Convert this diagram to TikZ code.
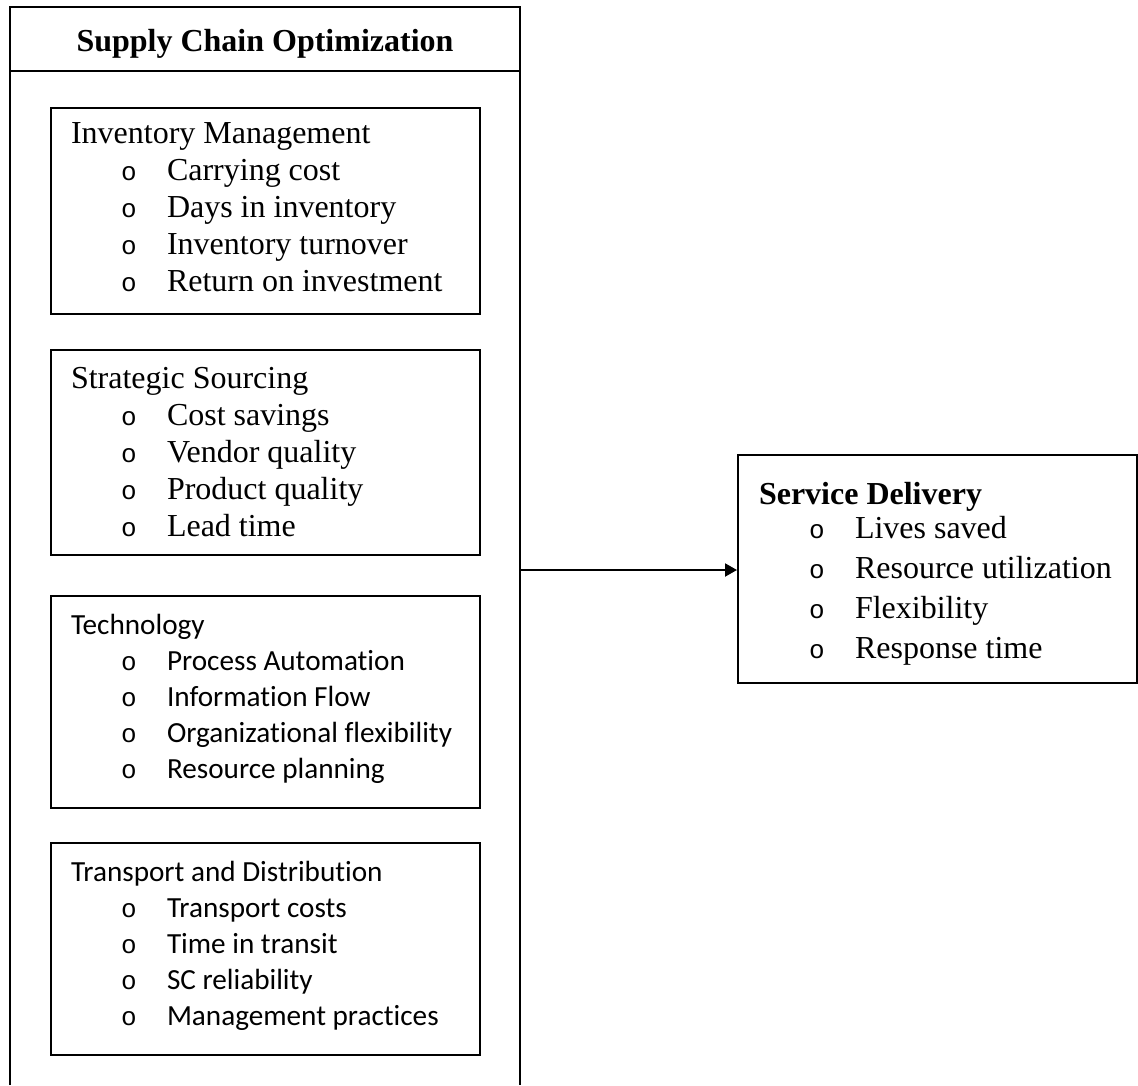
\documentclass[tikz,border=0pt]{standalone}
\usepackage{fontspec}
\setmainfont{Liberation Serif}
\newfontfamily\calibri[Ligatures=NoCommon]{Carlito}
\newfontfamily\bulletfont{Liberation Mono}
\usetikzlibrary{arrows.meta,positioning}

\newcommand{\bul}{{\bulletfont\fontsize{13}{13}\selectfont o}}
\newcommand{\itm}[1]{\hspace*{25pt}\makebox[23pt][l]{\bul}\mbox{#1}}

\tikzset{
  catbox/.style={draw, line width=1pt, anchor=north west, inner xsep=10pt, inner ysep=0pt},
  serifblk/.style={font=\fontsize{16}{18.5}\selectfont},
  sansblk/.style={font=\calibri\fontsize{14.6}{18.1}\selectfont},
  flow/.style={line width=1pt, -{Triangle[length=6pt,width=6.5pt]}}
}

\begin{document}
\begin{tikzpicture}[x=0.5pt, y=-0.5pt]
\useasboundingbox (0,0) rectangle (1138,1085);
\draw[line width=1pt] (10,1085) -- (10,7) -- (520,7) -- (520,1085);
\draw[line width=1pt] (10,71) -- (520,71);
\node[font=\bfseries\fontsize{16}{18.5}\selectfont, anchor=base] (sco) at (265,52) {Supply Chain Optimization};
\coordinate (scoE) at (520,570);

\node[catbox, serifblk] (inv) at (50,107) {\parbox[c][103pt][t]{194.5pt}{\rule{0pt}{18pt}Inventory Management\\
 \itm{Carrying cost}\\
 \itm{Days in inventory}\\
 \itm{Inventory turnover}\\
 \itm{Return on investment}}};
\node[catbox, serifblk] (src) at (50,349) {\parbox[c][102.5pt][t]{194.5pt}{\rule{0pt}{19pt}Strategic Sourcing\\
 \itm{Cost savings}\\
 \itm{Vendor quality}\\
 \itm{Product quality}\\
 \itm{Lead time}}};
\node[catbox, sansblk] (tech) at (50,595) {\parbox[c][106pt][t]{194.5pt}{\rule{0pt}{19pt}Technology\\
 \itm{Process Automation}\\
 \itm{Information Flow}\\
 \itm{Organizational flexibility}\\
 \itm{Resource planning}}};
\node[catbox, sansblk] (trans) at (50,842) {\parbox[c][106pt][t]{194.5pt}{\rule{0pt}{19pt}Transport and Distribution\\
 \itm{Transport costs}\\
 \itm{Time in transit}\\
 \itm{SC reliability}\\
 \itm{Management practices}}};

\node[catbox, font=\fontsize{16}{20}\selectfont, inner xsep=10.5pt] (sd) at (737,454) {\parbox[c][114pt][t]{178.5pt}{\rule{0pt}{24.5pt}\textbf{Service Delivery}\\[-3pt]
 \itm{Lives saved}\\
 \itm{Resource utilization}\\
 \itm{Flexibility}\\
 \itm{Response time}}};

\draw[flow] (scoE) -- (scoE -| sd.west);
\end{tikzpicture}
\end{document}
